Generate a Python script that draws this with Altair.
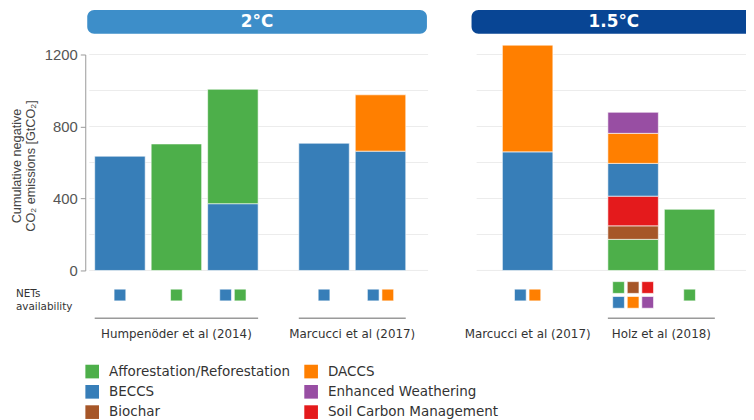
import altair as alt
import pandas as pd

# ---------------- data ----------------
TECHS = ["Afforestation/Reforestation", "BECCS", "Biochar", "DACCS",
         "Enhanced Weathering", "Soil Carbon Management"]
TECH_COLORS = ["#4daf4a", "#377eb8", "#a65628", "#ff7f00", "#984ea3", "#e41a1c"]

PANELS = ["2°C", "1.5°C"]
PANEL_COLORS = ["#3d8ec9", "#084594"]

BAR_IDS = ["b1", "b2", "b3", "b4", "b5", "b6", "b7", "b8"]
BAR_PANEL = ["2°C", "2°C", "2°C", "2°C", "2°C", "1.5°C", "1.5°C", "1.5°C"]
BAR_GROUP = ["Humpenöder et al (2014)", "Humpenöder et al (2014)", "Humpenöder et al (2014)",
             "Marcucci et al (2017)", "Marcucci et al (2017)",
             "Marcucci et al (2017)",
             "Holz et al (2018)", "Holz et al (2018)"]

# stacked segments, bottom to top within each bar
SEG_BAR = ["b1", "b2", "b3", "b3", "b4", "b5", "b5", "b6", "b6",
           "b7", "b7", "b7", "b7", "b7", "b7", "b8"]
SEG_TECH = ["BECCS", "Afforestation/Reforestation", "BECCS", "Afforestation/Reforestation",
            "BECCS", "BECCS", "DACCS", "BECCS", "DACCS",
            "Afforestation/Reforestation", "Biochar", "Soil Carbon Management", "BECCS",
            "DACCS", "Enhanced Weathering", "Afforestation/Reforestation"]
SEG_VALUE = [635, 703, 371, 636, 707, 663, 313, 659, 593,
             173, 75, 165, 182, 167, 117, 340]

# NETs availability per bar
AVAIL = {
    "b1": ["BECCS"],
    "b2": ["Afforestation/Reforestation"],
    "b3": ["BECCS", "Afforestation/Reforestation"],
    "b4": ["BECCS"],
    "b5": ["BECCS", "DACCS"],
    "b6": ["BECCS", "DACCS"],
    "b7": ["Afforestation/Reforestation", "Biochar", "Soil Carbon Management",
           "BECCS", "DACCS", "Enhanced Weathering"],
    "b8": ["Afforestation/Reforestation"],
}

Y_TICKS = [0, 400, 800, 1200]
GRID_VALUES = [0, 200, 400, 600, 800, 1000, 1200]
Y_TITLE = ["Cumulative negative", "CO₂ emissions [GtCO₂]"]

# ---------------- layout (in bar-step units) ----------------
XMAX = 11.70
FIRST_CENTER = 0.614
GROUP_GAPS = [1.614, 2.605, 1.868]
BAR_HALF = 0.447
SQUARE_STEP = 0.258
GRID_PAD = {"2°C": (0.544, 0.842), "1.5°C": (0.903, 1.25)}
BANNER_PAD = {"2°C": (0.579, 0.822), "1.5°C": (0.993, 1.18)}

pos = {}
x = FIRST_CENTER
prev = None
gi = 0
for b, p, g in zip(BAR_IDS, BAR_PANEL, BAR_GROUP):
    key = (p, g)
    if prev is not None:
        if key != prev:
            x += GROUP_GAPS[gi]
            gi += 1
        else:
            x += 1.0
    pos[b] = x
    prev = key

bars_df = pd.DataFrame({"bar": SEG_BAR, "tech": SEG_TECH, "value": SEG_VALUE})
bars_df["seg"] = bars_df.groupby("bar").cumcount()
bars_df["pos"] = bars_df["bar"].map(pos)
bars_df["xl"] = bars_df["pos"] - BAR_HALF
bars_df["xr"] = bars_df["pos"] + BAR_HALF

bar_meta = pd.DataFrame({"bar": BAR_IDS, "panel": BAR_PANEL, "group": BAR_GROUP})
bar_meta["pos"] = bar_meta["bar"].map(pos)
bar_meta["gkey"] = bar_meta["panel"] + "|" + bar_meta["group"]

# panels
prow = []
for p in PANELS:
    sub = bar_meta[bar_meta["panel"] == p]
    lo, hi = sub["pos"].min(), sub["pos"].max()
    prow.append({"panel": p,
                 "gl": lo - GRID_PAD[p][0], "gr": hi + GRID_PAD[p][1],
                 "bl": lo - BANNER_PAD[p][0], "br": hi + BANNER_PAD[p][1]})
panel_df = pd.DataFrame(prow)
panel_df["bc"] = (panel_df["bl"] + panel_df["br"]) / 2

grid_df = pd.DataFrame([{"panel": r["panel"], "gl": r["gl"], "gr": r["gr"], "v": v}
                        for _, r in panel_df.iterrows() for v in GRID_VALUES])

# groups
grow = []
for k, sub in bar_meta.groupby("gkey", sort=False):
    grow.append({"label": sub["group"].iloc[0], "n": len(sub),
                 "gc": sub["pos"].mean(),
                 "gl": sub["pos"].min() - BAR_HALF, "gr": sub["pos"].max() + BAR_HALF})
group_df = pd.DataFrame(grow)

# availability squares
srow = []
for b in BAR_IDS:
    techs = AVAIL[b]
    n = len(techs)
    ncols = 3 if n > 3 else n
    for i, t in enumerate(techs):
        if n > 3:
            r, c = divmod(i, 3)
            row = "top" if r == 0 else "bottom"
        else:
            c = i
            row = "mid"
        srow.append({"bar": b, "tech": t, "row": row,
                     "sx": pos[b] + (c - (ncols - 1) / 2) * SQUARE_STEP})
sq_df = pd.DataFrame(srow)

# ---------------- chart ----------------
x_scale = alt.Scale(domain=[0, XMAX], nice=False, zero=False)
y_scale = alt.Scale(domain=[0, 1200], nice=False)
color_scale = alt.Scale(domain=TECHS, range=TECH_COLORS)

y_axis = alt.Axis(values=Y_TICKS, format="d", grid=False, domainColor="#999999",
                  tickColor="#999999", tickSize=5, labelFont="Liberation Sans",
                  labelFontSize=15, labelColor="#555555", labelPadding=3, title=Y_TITLE,
                  titleFont="Liberation Sans", titleFontSize=12.8, titleFontWeight="normal",
                  titleColor="#444444", titleLineHeight=13.5, titleAngle=270,
                  titleAlign="center", titleBaseline="bottom", titleX=-62, titleY=112)

grid = alt.Chart(grid_df).mark_rule(color="#ececec", strokeWidth=1).encode(
    x=alt.X("gl:Q", scale=x_scale, axis=None),
    x2="gr:Q",
    y=alt.Y("v:Q", scale=y_scale, axis=y_axis),
)

bars = alt.Chart(bars_df).transform_stack(
    stack="value", groupby=["bar"], as_=["y0", "y1"],
    sort=[alt.SortField("seg", order="ascending")],
).mark_rect(stroke="white", strokeWidth=1, strokeOpacity=0.6).encode(
    x=alt.X("xl:Q", scale=x_scale, axis=None),
    x2="xr:Q",
    y=alt.Y("y0:Q", scale=y_scale, axis=y_axis),
    y2="y1:Q",
    color=alt.Color("tech:N", scale=color_scale, legend=alt.Legend(
        title=None, orient="none", legendX=0, legendY=313, columns=2,
        symbolType="square", symbolSize=190, symbolStrokeWidth=0, symbolOpacity=1,
        labelFont="DejaVu Sans", labelFontSize=13.6, labelColor="#333333",
        labelOffset=10, columnPadding=14, rowPadding=6.5, padding=0, labelLimit=400)),
)

banners = alt.Chart(panel_df).mark_rect(cornerRadius=7).encode(
    x=alt.X("bl:Q", scale=x_scale, axis=None),
    x2="br:Q",
    y=alt.value(-45), y2=alt.value(-21),
    fill=alt.Fill("panel:N", scale=alt.Scale(domain=PANELS, range=PANEL_COLORS), legend=None),
)

banner_text = alt.Chart(panel_df).mark_text(
    font="DejaVu Sans", fontWeight="bold", fontSize=17, color="white", baseline="middle"
).encode(
    x=alt.X("bc:Q", scale=x_scale, axis=None),
    y=alt.value(-33),
    text="panel:N",
)

sq_layers = []
for kind, yv in [("top", 235.2), ("mid", 242.8), ("bottom", 250.2)]:
    sq_layers.append(
        alt.Chart(sq_df).transform_filter(alt.datum.row == kind).mark_square(
            size=140, opacity=1, stroke="white", strokeWidth=0.6
        ).encode(
            x=alt.X("sx:Q", scale=x_scale, axis=None),
            y=alt.value(yv),
            color=alt.Color("tech:N", scale=color_scale, legend=None),
        )
    )

group_rules = alt.Chart(group_df).transform_filter(alt.datum.n > 1).mark_rule(
    color="#9a9a9a", strokeWidth=1.5
).encode(
    x=alt.X("gl:Q", scale=x_scale, axis=None),
    x2="gr:Q",
    y=alt.value(266.3),
)

group_text = alt.Chart(group_df).mark_text(
    font="DejaVu Sans", fontSize=12, color="#333333", baseline="middle"
).encode(
    x=alt.X("gc:Q", scale=x_scale, axis=None),
    y=alt.value(282),
    text="label:N",
)

nets_text = alt.Chart(pd.DataFrame({"t": ["NETs\navailability"]})).mark_text(
    font="DejaVu Sans", fontSize=10.5, color="#333333", align="left", baseline="middle",
    lineBreak="\n", lineHeight=13.3
).encode(
    x=alt.value(-70),
    y=alt.value(241.4),
    text="t:N",
)

chart = alt.layer(
    grid, bars, banners, banner_text, *sq_layers, group_rules, group_text, nets_text
).properties(
    width=667, height=218,
    autosize=alt.AutoSizeParams(type="none"),
    padding={"left": 78, "top": 45, "right": 0, "bottom": 149},
).configure_view(stroke=None)

chart.save("out.html", embed_options={"renderer": "svg", "actions": False})
